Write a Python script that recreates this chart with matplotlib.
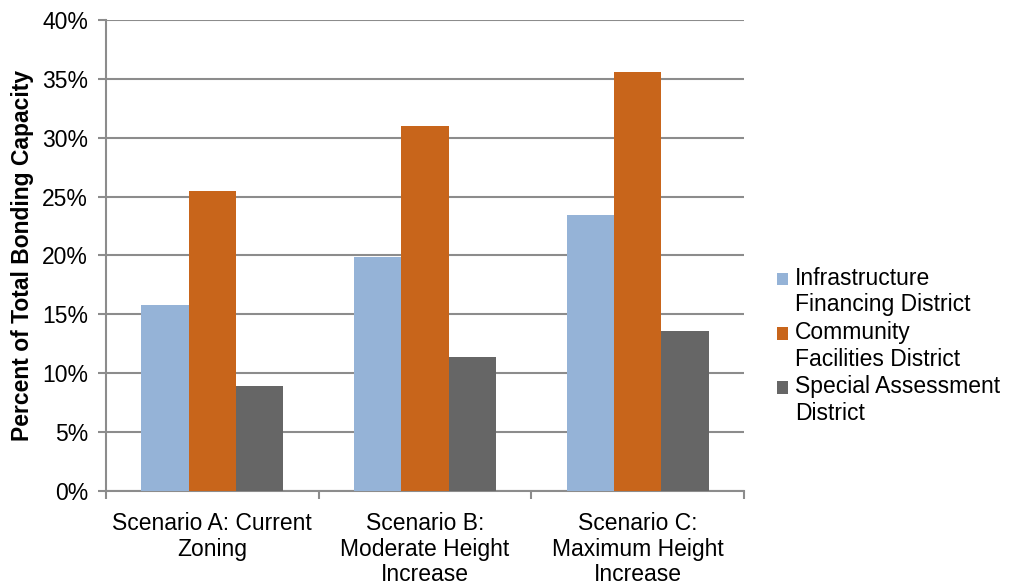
import numpy as np
import matplotlib.pyplot as plt
from matplotlib.ticker import FuncFormatter, FixedLocator

plt.rcParams['font.family'] = ['Liberation Sans', 'DejaVu Sans']

scenarios = ['Scenario A: Current\nZoning',
             'Scenario B:\nModerate Height\nIncrease',
             'Scenario C:\nMaximum Height\nIncrease']
series_names = ['Infrastructure\nFinancing District',
                'Community\nFacilities District',
                'Special Assessment\nDistrict']
ifd = [15.8, 19.9, 23.4]
cfd = [25.5, 31.0, 35.6]
sad = [8.9, 11.4, 13.6]
colors = ['#95B3D7', '#C8651B', '#666666']

fig = plt.figure(figsize=(10.11, 5.86), dpi=100)
ax = fig.add_axes([0.1048, 0.1621, 0.6311, 0.8038])

x = np.arange(len(scenarios))
w = 1 / 4.5
for i, (vals, col, name) in enumerate(zip([ifd, cfd, sad], colors, series_names)):
    ax.bar(x + (i - 1) * w, vals, width=w, color=col, label=name, zorder=3)

gridc = '#8C8C8C'
ax.set_ylim(0, 40)
ax.set_xlim(-0.5, 2.5)
ax.set_yticks(np.arange(0, 41, 5))
ax.yaxis.set_major_formatter(FuncFormatter(lambda v, p: '%d%%' % v))
ax.yaxis.grid(True, color=gridc, linewidth=1.5, zorder=0)

# category labels in the middle, tick marks on the group boundaries
ax.set_xticks(x)
ax.set_xticklabels(scenarios, fontsize=16.5, linespacing=1.15)
ax.xaxis.set_minor_locator(FixedLocator([-0.5, 0.5, 1.5, 2.5]))
ax.tick_params(axis='x', which='major', length=0, pad=15)
ax.tick_params(axis='x', which='minor', length=6, width=1.5, color=gridc, direction='out')
ax.tick_params(axis='y', length=6, width=1.5, color=gridc, labelsize=16.5, pad=7)

for s in ['top', 'right']:
    ax.spines[s].set_visible(False)
for s in ['left', 'bottom']:
    ax.spines[s].set_color(gridc)
    ax.spines[s].set_linewidth(1.5)

ax.set_ylabel('Percent of Total Bonding Capacity', fontsize=16.5, fontweight='bold', labelpad=6)

leg = fig.legend(loc='center left', bbox_to_anchor=(0.769, 0.41), frameon=False,
                 fontsize=16.5, handlelength=0.45, handleheight=0.45, handletextpad=0.3,
                 labelspacing=0.2, borderpad=0, borderaxespad=0)
# line the swatches up with the first line of each label
for h in leg.legend_handles:
    h.set_y(h.get_y() + 9.5)

fig.savefig('out.png', dpi=100)
